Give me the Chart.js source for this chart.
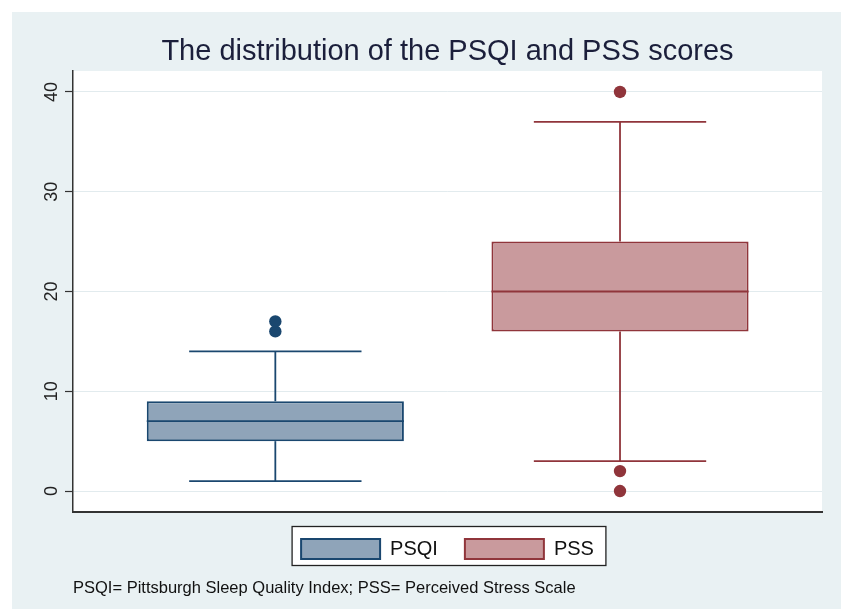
<!DOCTYPE html>
<html><head><meta charset="utf-8">
<script src="https://cdn.jsdelivr.net/npm/chart.js@4.4.1/dist/chart.umd.min.js"></script>
<style>html,body{margin:0;padding:0;background:#fff}canvas{display:block}</style>
</head><body>
<canvas id="c" width="841" height="609"></canvas>
<script>
// ---- data ----
const categories = ['PSQI', 'PSS'];
const whiskerLow = [1, 3];
const q1 = [5, 16];
const median = [7, 20];
const q3 = [9, 25];
const whiskerHigh = [14, 37];
const outliersPSQI = [16, 17];
const outliersPSS = [40, 2, 0];
const yTicks = [0, 10, 20, 30, 40];
const titleText = 'The distribution of the PSQI and PSS scores';
const noteText = 'PSQI= Pittsburgh Sleep Quality Index; PSS= Perceived Stress Scale';

// ---- styles ----
const fills = ['#8fa4b9', '#c99a9d'];
const strokes = ['#1a476f', '#90353b'];
const CAP_HALF = 0.25;
const FONT = '"Liberation Sans", Arial, sans-serif';
const BG = '#e9f1f3';
const outlierSets = [outliersPSQI, outliersPSS];

const datasets = categories.map((c, i) => ({
  type: 'bar', label: c,
  data: [{x: i + 1, y: [q1[i], q3[i]]}],
  backgroundColor: fills[i], borderColor: strokes[i], borderWidth: 2,
  borderSkipped: false, grouped: false, barPercentage: 0.746, categoryPercentage: 1, order: 2
})).concat(categories.map((c, i) => ({
  type: 'scatter', label: c + ' outliers',
  data: outlierSets[i].map(v => ({x: i + 1, y: v})),
  pointRadius: 6.2, pointBackgroundColor: strokes[i], pointBorderColor: strokes[i],
  pointBorderWidth: 0, pointHoverRadius: 6.2, order: 1
})));

const bgPlugin = {
  id: 'bgPlugin',
  beforeDraw(chart) {
    const {ctx, chartArea: a, width, height} = chart;
    ctx.save();
    ctx.fillStyle = '#fff'; ctx.fillRect(0, 0, width, height);
    ctx.fillStyle = BG; ctx.fillRect(12, 12, width - 12, height - 12);
    ctx.fillStyle = '#fff'; ctx.fillRect(a.left, a.top, a.right - a.left, a.bottom - a.top);
    const lg = chart.legend;
    if (lg && lg.legendHitBoxes && lg.legendHitBoxes.length) {
      const hb = lg.legendHitBoxes;
      const last = hb[hb.length - 1];
      const l = hb[0].left - 9, r = last.left + last.width + 12;
      const t = hb[0].top - 12.5, b = hb[0].top + hb[0].height + 6.5;
      ctx.fillStyle = '#fff'; ctx.fillRect(l, t, r - l, b - t);
      ctx.strokeStyle = '#222'; ctx.lineWidth = 1.3; ctx.strokeRect(l, t, r - l, b - t);
    }
    ctx.restore();
  }
};

const boxLines = {
  id: 'boxLines',
  afterDatasetsDraw(chart) {
    const {ctx, scales: {x, y}} = chart;
    ctx.save();
    ctx.lineWidth = 1.8;
    const seg = (x1, y1, x2, y2) => { ctx.beginPath(); ctx.moveTo(x1, y1); ctx.lineTo(x2, y2); ctx.stroke(); };
    categories.forEach((c, i) => {
      const cx = x.getPixelForValue(i + 1);
      const yh = y.getPixelForValue(whiskerHigh[i]), yl = y.getPixelForValue(whiskerLow[i]);
      const y3 = y.getPixelForValue(q3[i]), y1 = y.getPixelForValue(q1[i]);
      const ym = y.getPixelForValue(median[i]);
      ctx.strokeStyle = strokes[i];
      seg(cx, y3, cx, yh);
      seg(cx, y1, cx, yl);
      const cl = x.getPixelForValue(i + 1 - CAP_HALF), cr = x.getPixelForValue(i + 1 + CAP_HALF);
      seg(cl, yh, cr, yh);
      seg(cl, yl, cr, yl);
      const el = chart.getDatasetMeta(i).data[0];
      seg(el.x - el.width / 2, ym, el.x + el.width / 2, ym);
    });
    ctx.restore();
  }
};

new Chart(document.getElementById('c'), {
  type: 'bar',
  data: {datasets},
  plugins: [bgPlugin, boxLines],
  options: {
    responsive: false,
    animation: false,
    layout: {padding: {left: 37.4, right: 19, top: 0, bottom: 0}},
    scales: {
      x: {
        type: 'linear', min: 0.413, max: 2.586, offset: false,
        afterBuildTicks: s => { s.ticks = categories.map((c, i) => ({value: i + 1})); },
        ticks: {display: false},
        grid: {display: false, drawTicks: false, offset: false},
        border: {display: true, color: '#333', width: 2}
      },
      y: {
        type: 'linear', min: -2.1, max: 42.1,
        afterBuildTicks: s => { s.ticks = yTicks.map(v => ({value: v})); },
        ticks: {minRotation: 90, maxRotation: 90, crossAlign: 'center', padding: 3,
                color: '#222', font: {family: FONT, size: 18}},
        grid: {color: '#e2ebee', lineWidth: 1, tickColor: '#333', tickLength: 8, tickWidth: 1.2},
        border: {color: '#333', width: 1.5}
      }
    },
    plugins: {
      tooltip: {enabled: false},
      title: {display: true, text: titleText, fullSize: false, color: '#1b1f3b',
              font: {family: FONT, size: 29, weight: 'normal'}, padding: {top: 34.3, bottom: 1.9}},
      subtitle: {display: true, text: noteText, position: 'bottom', align: 'start', fullSize: false,
                 color: '#111', font: {family: FONT, size: 16.5, weight: 'normal'},
                 padding: {top: 9.4, bottom: 10.8}},
      legend: {position: 'bottom', fullSize: false,
               labels: {boxWidth: 79, boxHeight: 20, padding: 27, color: '#111',
                        font: {family: FONT, size: 20},
                        filter: item => item.datasetIndex < categories.length}}
    }
  }
});
</script>
</body></html>
